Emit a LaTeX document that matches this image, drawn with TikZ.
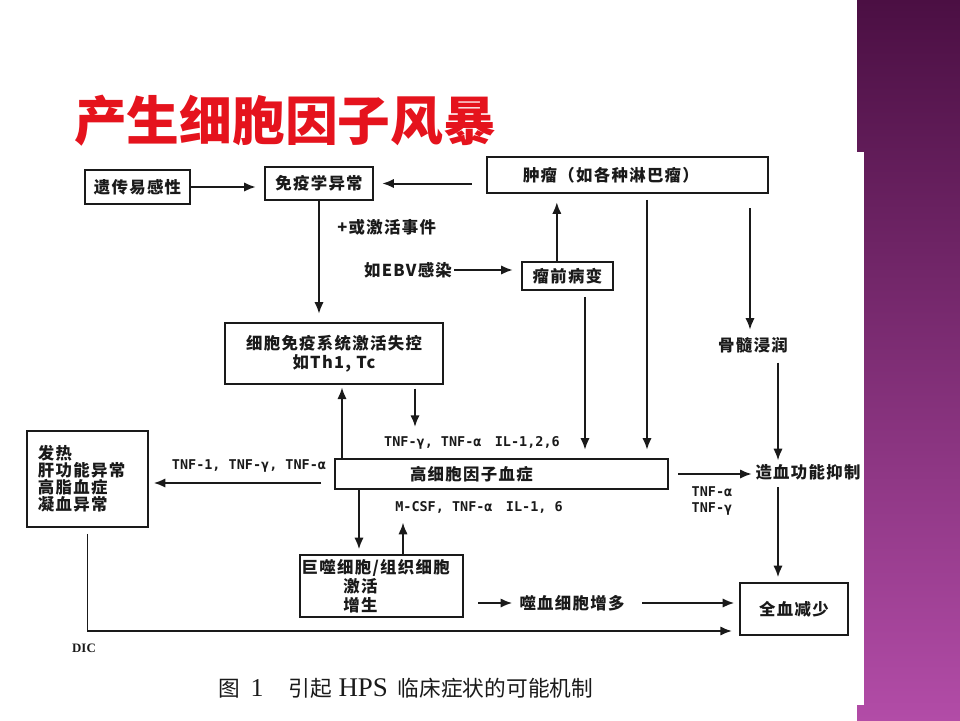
\documentclass[tikz,border=0pt]{standalone}
\usepackage{fontspec}
\newfontfamily\dgfont[LetterSpace=8]{Noto Sans CJK SC}
\newfontfamily\cjkfont{Noto Sans CJK SC}
\newfontfamily\lbfont{DejaVu Sans Mono}
\newfontfamily\capfont{Liberation Serif}
\usepackage{tikz}
\usetikzlibrary{arrows.meta,positioning,calc}
\definecolor{titlered}{HTML}{E5131D}
\definecolor{plumtop}{HTML}{4B0F43}
\definecolor{plumbot}{HTML}{B24CA7}
\definecolor{ink}{HTML}{1A1A1A}

\begin{document}
\begin{tikzpicture}[x=0.03cm, y=-0.03cm,
    box/.style={draw=ink, line width=1.7pt, inner sep=2pt, text=ink,
      font=\dgfont\bfseries\fontsize{14}{16}\selectfont},
    tag/.style={inner sep=2pt, text=ink, font=\dgfont\bfseries\fontsize{14}{16}\selectfont},
    lbl/.style={inner sep=1pt, text=ink, font=\lbfont\bfseries\fontsize{11.5}{13}\selectfont}]
   % slide background
   \useasboundingbox (0,0) rectangle (960,720);
   \fill[white] (0,0) rectangle (960,720);
   \shade[top color=plumtop, bottom color=plumbot] (857,0) rectangle (960,720);
   \fill[white] (0,152) rectangle (864,705);

   \node[font=\cjkfont\bfseries\fontsize{45}{50}\selectfont, text=titlered] (title) at (285,121) {产生细胞因子风暴};

   % boxes
   \node[box, minimum width=3.15cm, minimum height=1.02cm] (gene) at (137.5,187) {遗传易感性};
   \node[box, minimum width=3.24cm, minimum height=0.99cm] (immab) at (319,183.5) {免疫学异常};
   \node[box, minimum height=1.08cm, inner xsep=1.08cm, text width=6.27cm, align=left] (tumor) at (627.5,175) {肿瘤（如各种淋巴瘤）};
   \node[box, minimum width=2.73cm, minimum height=0.84cm] (pre) at (567.5,276) {瘤前病变};
   \node[box, minimum width=6.54cm, minimum height=1.83cm, align=center] (cellimm) at (334,353.5) {细胞免疫系统激活失控\\如Th1, Tc};
   \node[box, minimum height=0.9cm, inner xsep=2.25cm, text width=5.49cm, align=left] (hyper) at (501.5,474) {高细胞因子血症};
   \node[box, minimum height=2.88cm, inner xsep=0.33cm, text width=2.97cm, align=left,
         font=\dgfont\bfseries\fontsize{14}{14.5}\selectfont] (fever) at (87.5,479) {发热\\肝功能异常\\高脂血症\\凝血异常};
   \node[box, minimum height=1.86cm, inner xsep=0.05cm, text width=4.79cm, align=left] (mac) at (381.5,586)
         {巨噬细胞/组织细胞\\\hspace*{1.25cm}激活\\\hspace*{1.25cm}增生};
   \node[box, minimum width=3.24cm, minimum height=1.56cm] (pancyt) at (794,609) {全血减少};

   % plain texts
   \node[tag] (ebv) at (408,270) {如EBV感染};
   \node[tag] (marrow) at (753,345) {骨髓浸润};
   \node[tag] (hemat) at (808,472) {造血功能抑制};
   \node[tag] (hemo) at (572,603) {噬血细胞增多};
   \node[lbl] (cyt1) at (472,443) {TNF-γ, TNF-α\hspace{0.4cm}IL-1,2,6};
   \node[lbl] (cyt2) at (479,507) {M-CSF, TNF-α\hspace{0.4cm}IL-1, 6};
   \node[lbl] (cyt3) at (249,466) {TNF-1, TNF-γ, TNF-α};
   \node[lbl, align=left] (cyt4) at (712,501) {TNF-α\\TNF-γ};
   \node[text=ink, font=\capfont\bfseries\fontsize{11}{12}\selectfont] (dic) at (84,648) {DIC};
   \node[text=ink, font=\cjkfont\fontsize{18.5}{20}\selectfont] (cap) at (406,688)
         {图\hspace{0.3cm}{\capfont\fontsize{22}{24}\selectfont 1}\hspace{0.75cm}引起\hspace{0.2cm}{\capfont\fontsize{23}{24}\selectfont HPS}\hspace{0.3cm}临床症状的可能机制};

   \begin{scope}[->, line width=1.7pt, draw=ink, shorten >=7pt, >={Latex[length=10pt,width=8pt]}]
    \draw (gene.east) -- (gene.east -| immab.west);
    \draw[shorten <=12pt] (tumor.west |- immab.east) -- (immab.east);
    \draw (immab.south) -- node[tag, pos=0.22, right, xshift=0.45cm] (trig) {+或激活事件} (immab.south |- cellimm.north);
    \draw (ebv.east) -- (ebv.east -| pre.west);
    \draw ([xshift=-0.32cm]pre.north) -- ([xshift=-0.32cm]pre.north |- tumor.south);
    \draw[shorten <=5pt] ([xshift=0.525cm]pre.south) -- ([xshift=0.525cm]pre.south |- hyper.north);
    \draw[shorten <=5pt] ([xshift=0.585cm]tumor.south) -- ([xshift=0.585cm]tumor.south |- hyper.north);
    \draw[shorten <=12pt, shorten >=4pt] ([xshift=3.675cm]tumor.south) -- ([xshift=3.675cm]tumor.south |- marrow.north);
    \draw[shorten <=6pt, shorten >=1pt] ([xshift=0.75cm]marrow.south) -- ([xshift=0.75cm]marrow.south |- hemat.north);
    \draw[shorten <=4pt, shorten >=4pt] ([xshift=-0.9cm]hemat.south) -- ([xshift=-0.9cm]hemat.south |- pancyt.north);
    \draw[shorten <=8pt, shorten >=1pt] (hyper.east) -- (hyper.east -| hemat.west);
    \draw[shorten <=3pt] ([xshift=2.43cm]cellimm.south) -- ([xshift=2.43cm]cellimm.south |- cyt1.north);
    \draw[shorten >=2pt] ([xshift=-4.785cm]hyper.north) -- ([xshift=-4.785cm]hyper.north |- cellimm.south);
    \draw[shorten <=11pt, shorten >=4pt] ([yshift=-0.27cm]hyper.west) -- ([yshift=-0.27cm]hyper.west -| fever.east);
    \draw[shorten >=4pt] ([xshift=-4.275cm]hyper.south) -- ([xshift=-4.275cm]hyper.south |- mac.north);
    \draw ([xshift=0.645cm]mac.north) -- ([xshift=0.645cm]mac.north |- cyt2.south);
    \draw[shorten <=12pt, shorten >=4pt] (mac.east |- hemo.west) -- (hemo.west);
    \draw[shorten <=13pt, shorten >=4pt] (hemo.east) -- (hemo.east -| pancyt.west);
    \draw[shorten <=5pt, shorten >=6pt] (fever.south) |- ([yshift=0.15cm]pancyt.south west);
   \end{scope}
\end{tikzpicture}
\end{document}
